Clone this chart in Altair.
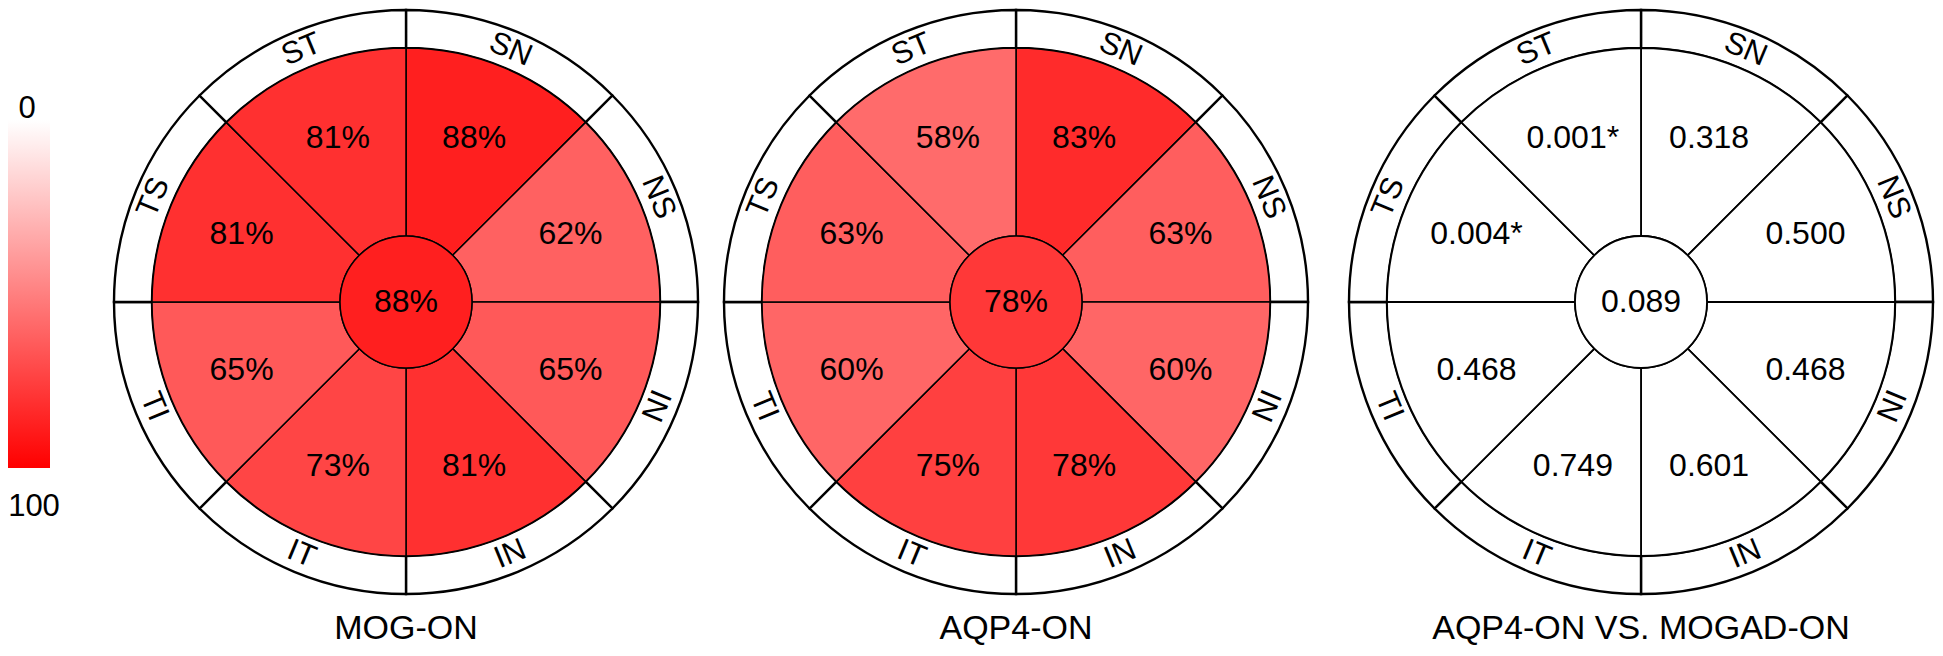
import math
import altair as alt
import pandas as pd

# ---------------- data ----------------
PANELS = ["MOG-ON", "AQP4-ON", "AQP4-ON VS. MOGAD-ON"]
SECTORS = ["SN", "NS", "NI", "IN", "IT", "TI", "TS", "ST"]  # clockwise from 12 o'clock
MOG_VALUES = [88, 62, 65, 81, 73, 65, 81, 81]
MOG_CENTER = 88
AQP4_VALUES = [83, 63, 60, 78, 75, 60, 63, 58]
AQP4_CENTER = 78
P_VALUES = ["0.318", "0.500", "0.468", "0.601", "0.749", "0.468", "0.004*", "0.001*"]
P_CENTER = "0.089"
SCALE_TICKS = [0, 100]

# ---------------- layout / style ----------------
CX = [398, 1008, 1633]
CY = 294
R_OUT, R_RING, R_IN = 292, 254, 66
R_TEXT, R_LAB = 178, 273
FONT = "Liberation Sans"
W, H = 1927, 640

sector_rows, center_rows = [], []
for p, vals, c in [(PANELS[0], MOG_VALUES, MOG_CENTER), (PANELS[1], AQP4_VALUES, AQP4_CENTER)]:
    for i, (s, v) in enumerate(zip(SECTORS, vals)):
        sector_rows.append({"panel": p, "sector": s, "idx": i, "value": v, "label": f"{v}%"})
    center_rows.append({"panel": p, "value": c, "label": f"{c}%"})
for i, (s, t) in enumerate(zip(SECTORS, P_VALUES)):
    sector_rows.append({"panel": PANELS[2], "sector": s, "idx": i, "value": None, "label": t})
center_rows.append({"panel": PANELS[2], "value": None, "label": P_CENTER})
ring_rows = [{"panel": p, "sector": s, "idx": i} for p in PANELS for i, s in enumerate(SECTORS)]

sector_df = pd.DataFrame(sector_rows)
center_df = pd.DataFrame(center_rows)
ring_df = pd.DataFrame(ring_rows)
title_df = pd.DataFrame({"panel": PANELS})
tick_df = pd.DataFrame({"tick": SCALE_TICKS})

THETA = alt.Scale(domain=[0, 360], range=[0, 2 * math.pi])
COLOR = alt.Color(
    "value:Q",
    scale=alt.Scale(domain=[0, 100], range=["#ffffff", "#ff0000"], interpolate="rgb"),
    legend=None,
)


def with_angles(ch):
    return ch.transform_calculate(
        start="datum.idx * 45",
        end="datum.idx * 45 + 45",
        mid="datum.idx * 45 + 22.5",
    ).transform_calculate(
        rot="(datum.mid > 90 && datum.mid < 270 ? datum.mid + 180 : datum.mid) % 360"
    )


def panel(i):
    name = PANELS[i]
    pos = dict(x=alt.value(CX[i]), y=alt.value(CY))
    flt = alt.datum.panel == name
    layers = []

    ring = with_angles(alt.Chart(ring_df).transform_filter(flt)).mark_arc(
        radius=R_OUT, radius2=R_RING, fill="white", stroke="black", strokeWidth=2.4
    ).encode(theta=alt.Theta("start:Q", scale=THETA), theta2="end:Q", **pos)
    layers.append(ring)

    sec_base = with_angles(alt.Chart(sector_df).transform_filter(flt))
    if i < 2:
        sec = sec_base.mark_arc(
            radius=R_RING, radius2=R_IN, stroke="black", strokeWidth=1.5
        ).encode(theta=alt.Theta("start:Q", scale=THETA), theta2="end:Q", color=COLOR, **pos)
        cen = alt.Chart(center_df).transform_filter(flt).mark_arc(
            radius=R_IN, radius2=0, theta=0, theta2=2 * math.pi, stroke="black", strokeWidth=1.5
        ).encode(color=COLOR, **pos)
    else:
        sec = sec_base.mark_arc(
            radius=R_RING, radius2=R_IN, fill="white", stroke="black", strokeWidth=1.8
        ).encode(theta=alt.Theta("start:Q", scale=THETA), theta2="end:Q", **pos)
        cen = alt.Chart(center_df).transform_filter(flt).mark_arc(
            radius=R_IN, radius2=0, theta=0, theta2=2 * math.pi, fill="white",
            stroke="black", strokeWidth=1.8
        ).encode(**pos)
    layers += [sec, cen]

    sec_txt = sec_base.mark_text(
        radius=R_TEXT, font=FONT, fontSize=32, align="center", baseline="middle", color="black"
    ).encode(theta=alt.Theta("mid:Q", scale=THETA), text="label:N", **pos)
    cen_txt = alt.Chart(center_df).transform_filter(flt).mark_text(
        font=FONT, fontSize=32, align="center", baseline="middle", color="black"
    ).encode(text="label:N", **pos)
    lab = with_angles(alt.Chart(ring_df).transform_filter(flt)).mark_text(
        radius=R_LAB, font=FONT, fontSize=31, align="center", baseline="middle", color="black"
    ).encode(
        theta=alt.Theta("mid:Q", scale=THETA),
        angle=alt.Angle("rot:Q", scale=None),
        text="sector:N",
        **pos,
    )
    ttl = alt.Chart(title_df).transform_filter(flt).mark_text(
        font=FONT, fontSize=34, align="center", baseline="alphabetic", color="black"
    ).encode(text="panel:N", x=alt.value(CX[i]), y=alt.value(631))
    layers += [sec_txt, cen_txt, lab, ttl]
    return layers


# ---------------- colour bar ----------------
YBAR = alt.Scale(domain=[0, 100], range=[112, 460])
bar = alt.Chart(tick_df).transform_aggregate(lo="min(tick)", hi="max(tick)").mark_rect(
    color=alt.Gradient(
        gradient="linear",
        stops=[alt.GradientStop(color="#ffffff", offset=0), alt.GradientStop(color="#ff0000", offset=1)],
        x1=0, x2=0, y1=0, y2=1,
    )
).encode(
    y=alt.Y("lo:Q", scale=YBAR, axis=None),
    y2="hi:Q",
    x=alt.value(0),
    x2=alt.value(42),
)
lab0 = alt.Chart(tick_df).transform_filter(alt.datum.tick == 0).mark_text(
    font=FONT, fontSize=31, align="center", baseline="alphabetic", dy=-2, color="black"
).encode(y=alt.Y("tick:Q", scale=YBAR, axis=None), x=alt.value(19), text="tick:N")
lab100 = alt.Chart(tick_df).transform_filter(alt.datum.tick == 100).mark_text(
    font=FONT, fontSize=31, align="center", baseline="alphabetic", dy=48, color="black"
).encode(y=alt.Y("tick:Q", scale=YBAR, axis=None), x=alt.value(26), text="tick:N")

all_layers = [bar, lab0, lab100]
for k in range(3):
    all_layers += panel(k)

chart = alt.layer(*all_layers).properties(
    width=W, height=H, padding=0, autosize=alt.AutoSizeParams(type="none")
).configure_view(stroke=None)

chart.save("out.html", embed_options={"renderer": "svg", "actions": False})
